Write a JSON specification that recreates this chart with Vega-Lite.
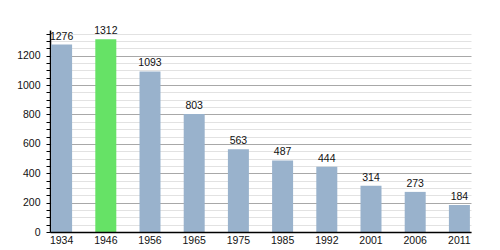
{
  "$schema": "https://vega.github.io/schema/vega-lite/v6.json",
  "autosize": "none",
  "padding": {"left": 50, "top": 30, "right": 29, "bottom": 18},
  "width": 421,
  "height": 202,
  "background": "white",
  "config": {
    "view": {"stroke": null},
    "font": "Liberation Sans",
    "text": {"font": "Liberation Sans"}
  },
  "data": {
    "values": [
      {"year": "1934", "pop": 1276, "hl": "n"},
      {"year": "1946", "pop": 1312, "hl": "y"},
      {"year": "1956", "pop": 1093, "hl": "n"},
      {"year": "1965", "pop": 803, "hl": "n"},
      {"year": "1975", "pop": 563, "hl": "n"},
      {"year": "1985", "pop": 487, "hl": "n"},
      {"year": "1992", "pop": 444, "hl": "n"},
      {"year": "2001", "pop": 314, "hl": "n"},
      {"year": "2006", "pop": 273, "hl": "n"},
      {"year": "2011", "pop": 184, "hl": "n"}
    ]
  },
  "encoding": {
    "x": {
      "field": "year",
      "type": "ordinal",
      "sort": null,
      "scale": {"paddingInner": 0.525, "paddingOuter": 0.025},
      "axis": {
        "title": null,
        "labelAngle": 0,
        "ticks": false,
        "labelPadding": 3,
        "labelFontSize": 10.5,
        "labelColor": "#111",
        "domainColor": "#000",
        "domainWidth": 1.5,
        "zindex": 2
      }
    },
    "y": {
      "field": "pop",
      "type": "quantitative",
      "scale": {"domain": [0, 1375], "nice": false},
      "axis": {
        "title": null,
        "values": [0,50,100,150,200,250,300,350,400,450,500,550,600,650,700,750,800,850,900,950,1000,1050,1100,1150,1200,1250,1300,1350],
        "labelExpr": "datum.value % 200 === 0 ? datum.label : ''",
        "format": "d",
        "grid": true,
        "gridColor": {"condition": {"test": "datum.value % 200 === 0", "value": "#a8a8a8"}, "value": "#e2e2e2"},
        "gridWidth": 1,
        "tickSize": 4,
        "tickColor": "#000",
        "labelPadding": 6,
        "labelFontSize": 10.5,
        "labelColor": "#111",
        "domainColor": "#000",
        "domainWidth": 1.5,
        "labelBound": false,
        "labelFlush": false,
        "labelOverlap": false
      }
    }
  },
  "layer": [
    {
      "mark": {"type": "bar"},
      "encoding": {
        "color": {
          "field": "hl",
          "type": "nominal",
          "scale": {"domain": ["n", "y"], "range": ["#99b2cc", "#66e266"]},
          "legend": null
        }
      }
    },
    {
      "mark": {"type": "text", "baseline": "bottom", "dy": -3, "fontSize": 10.5, "color": "#111"},
      "encoding": {"text": {"field": "pop", "type": "quantitative"}}
    }
  ]
}
